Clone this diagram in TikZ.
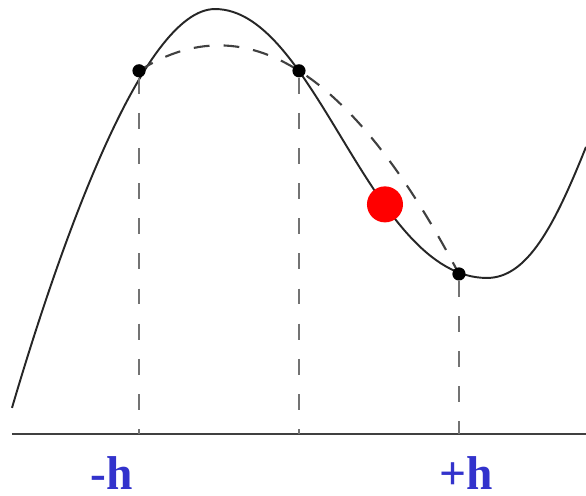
\documentclass[tikz,border=0pt]{standalone}
\usepackage{fontspec}
\setmainfont{Liberation Serif}
\usepackage{xcolor}
\usetikzlibrary{positioning,calc}
\definecolor{lblblue}{RGB}{51,51,204}
\tikzset{
  curve/.style = {line width=1.1pt, black!85, line join=round},
  guess/.style = {line width=1.2pt, black!75, dash pattern=on 9pt off 8pt},
  drop/.style  = {line width=1.5pt, black!55, dash pattern=on 9pt off 11pt},
  knot/.style  = {fill, circle, inner sep=0pt, minimum size=7.5pt},
  lbl/.style   = {font=\fontsize{27}{30}\selectfont\bfseries, text=lblblue,
                  inner sep=0pt, anchor=base},
}

\begin{document}
\begin{tikzpicture}[x=3.2cm, y=3.2cm]
\useasboundingbox[fill=white] (-1.869,-0.3875) rectangle (1.794,2.7125);
% axis
\coordinate (ax0) at (-1.794,0);
\coordinate (ax1) at (1.794,0);
\draw[line width=1.3pt, black!75] (ax0) -- (ax1);
% the function: start, maximum, minimum, end
\coordinate (f0) at (-1.794,0.163);
\coordinate (fmax) at (-0.525,2.656);
\coordinate (fmin) at (1.175,0.975);
\coordinate (f1) at (1.794,1.794);
\draw[curve] (f0) .. controls (-1.494,1.183) and (-0.975,2.656) .. (fmax)
  .. controls (0.105,2.656) and (0.445,0.975) .. (fmin)
  .. controls (1.425,0.975) and (1.594,1.294) .. (f1);
% parabola through the three points
\draw[guess] plot[domain=-1:1, samples=60] (\x, {2.27-0.635*\x-0.635*\x*\x});
\node[knot] (a) at (-1,2.27) {};
\node[knot] (b) at (0,2.27) {};
\node[knot] (c) at (1,1) {};
\foreach \n in {a,b,c}
  \draw[drop] (\n) -- (\n |- ax0);
\node[fill=red, circle, inner sep=0pt, minimum size=20.5pt] (est) at (0.5375,1.435) {};
\node[lbl] (lm) at (-1.169,-0.35) {-h};
\node[lbl] (lp) at (1.044,-0.35) {+h};
\end{tikzpicture}
\end{document}
